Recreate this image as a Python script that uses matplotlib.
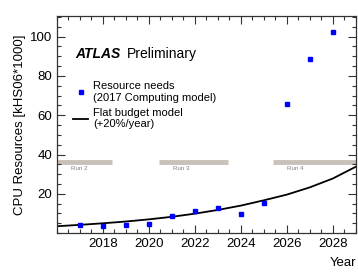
import matplotlib
matplotlib.use("Agg")
import matplotlib.pyplot as plt
from matplotlib.ticker import MultipleLocator

plt.rcParams['font.family'] = ['Liberation Sans', 'DejaVu Sans']

# resource needs (2017 computing model)
years = [2017, 2018, 2019, 2020, 2021, 2022, 2023, 2024, 2025, 2026, 2027, 2028]
cpu_needs = [3.9, 3.7, 4.3, 4.4, 8.5, 11.3, 12.8, 9.7, 15.4, 65.6, 88.5, 102.4]

# flat budget model (+20%/year)
budget_years = [2016, 2017, 2018, 2019, 2020, 2021, 2022, 2023, 2024, 2025, 2026, 2027, 2028, 2029]
budget_cpu = [3.5, 4.2, 5.0, 5.9, 7.0, 8.3, 9.9, 11.8, 14.0, 16.7, 19.6, 23.3, 27.8, 33.8]

# LHC runs
run_names = ["Run 2", "Run 3", "Run 4"]
run_start = [2016.0, 2020.45, 2025.4]
run_end = [2018.4, 2023.45, 2029.0]
run_level = 36.3

x_ticks = [2018, 2020, 2022, 2024, 2026, 2028]
y_ticks = [20, 40, 60, 80, 100]

fig = plt.figure(figsize=(3.58, 2.72), dpi=100)
ax = fig.add_axes([0.159, 0.143, 0.835, 0.798])

for name, x0, x1 in zip(run_names, run_start, run_end):
    ax.plot([x0, x1], [run_level, run_level], color="#c9c1b9", lw=3.5,
            solid_capstyle="butt", zorder=1)
    ax.text(x0 + 0.6, run_level - 3.5, name, fontsize=4.5, color="#808080",
            ha="left", va="center")

ax.plot(budget_years, budget_cpu, color="black", lw=1.3, zorder=2,
        label="Flat budget model\n(+20%/year)")
ax.plot(years, cpu_needs, "s", color="#0000ff", ms=3.3, zorder=3,
        label="Resource needs\n(2017 Computing model)")

ax.set_xlim(2016, 2029)
ax.set_ylim(0, 110.5)
ax.set_xticks(x_ticks)
ax.xaxis.set_minor_locator(MultipleLocator(0.5))
ax.set_yticks(y_ticks)
ax.yaxis.set_minor_locator(MultipleLocator(5))
ax.tick_params(which="both", direction="in", top=True, right=True, labelsize=9.5,
               width=0.8, color="#333333")
ax.tick_params(which="major", length=6)
ax.tick_params(which="minor", length=3)
for s in ax.spines.values():
    s.set_linewidth(0.9)
    s.set_color("#333333")

ax.set_ylabel("CPU Resources [kHS06*1000]", fontsize=9.5, labelpad=3)
ax.set_xlabel("Year", fontsize=9.5, loc="right", labelpad=5)

ax.text(0.06, 0.805, "ATLAS", transform=ax.transAxes, fontsize=10,
        fontweight="bold", fontstyle="italic")
ax.text(0.235, 0.805, "Preliminary", transform=ax.transAxes, fontsize=10)

h, l = ax.get_legend_handles_labels()
ax.legend(h[::-1], l[::-1], loc="upper left", bbox_to_anchor=(0.04, 0.72),
          frameon=False, fontsize=8, handlelength=1.3, handletextpad=0.5,
          labelspacing=0.45, borderaxespad=0)

fig.savefig("out.png", dpi=100)
